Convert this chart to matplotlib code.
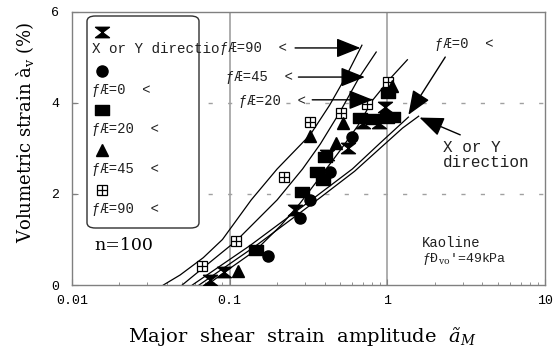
import numpy as np
import matplotlib.pyplot as plt
from matplotlib.path import Path
from matplotlib.patches import FancyBboxPatch
from matplotlib.transforms import Bbox, TransformedBbox

plt.rcParams['mathtext.fontset'] = 'custom'
plt.rcParams['mathtext.rm'] = 'DejaVu Serif'
plt.rcParams['mathtext.it'] = 'DejaVu Serif:italic'

# measured points (major shear strain amplitude, volumetric strain %)
xy_x = [0.075, 0.092, 0.26, 0.415, 0.565, 0.70, 0.88, 0.97]
xy_y = [0.11, 0.29, 1.65, 2.86, 3.01, 3.56, 3.56, 3.91]
t0_x = [0.176, 0.28, 0.324, 0.43, 0.60]
t0_y = [0.64, 1.47, 1.87, 2.48, 3.25]
t20_x = [0.147, 0.288, 0.36, 0.39, 0.405, 0.67, 0.81, 1.0, 1.09, 1.01]
t20_y = [0.77, 2.04, 2.48, 2.31, 2.81, 3.67, 3.65, 3.67, 3.69, 4.22]
t45_x = [0.113, 0.324, 0.475, 0.52, 1.07]
t45_y = [0.31, 3.27, 3.12, 3.56, 4.37]
t90_x = [0.067, 0.11, 0.22, 0.324, 0.51, 0.74, 1.01]
t90_y = [0.42, 0.97, 2.37, 3.58, 3.78, 3.98, 4.46]

# fitted curves
c90_x = [0.038, 0.0485, 0.068, 0.09, 0.137, 0.2, 0.324, 0.43, 0.55, 0.69]
c90_y = [0.0, 0.22, 0.6, 1.0, 1.87, 2.55, 3.3, 3.95, 4.6, 5.27]
c45_x = [0.05, 0.075, 0.11, 0.2, 0.29, 0.376, 0.5, 0.66, 0.85]
c45_y = [0.0, 0.5, 0.97, 1.87, 2.55, 3.1, 3.8, 4.55, 5.12]
c20_x = [0.072, 0.09, 0.147, 0.21, 0.28, 0.38, 0.5, 0.65, 0.81, 1.05, 1.34]
c20_y = [0.0, 0.25, 0.77, 1.3, 1.80, 2.4, 2.95, 3.5, 4.07, 4.55, 4.95]
c0_x = [0.058, 0.135, 0.33, 0.6, 0.9, 1.36]
c0_y = [0.0, 0.87, 1.87, 2.55, 3.12, 3.69]
cxy_x = [0.064, 0.145, 0.35, 0.62, 0.93, 1.25, 1.58]
cxy_y = [0.0, 0.85, 1.84, 2.5, 3.05, 3.45, 3.71]

xticks = [0.01, 0.1, 1, 10]
xtick_labels = ['0.01', '0.1', '1', '10']
yticks = [0, 2, 4, 6]

W, H = 555, 354
fig = plt.figure(figsize=(5.55, 3.54), dpi=100)
ax = fig.add_axes([72 / W, 1 - 285 / H, (545 - 72) / W, (285 - 12) / H])


def fx(x):
    return x / W


def fy(y):
    return 1 - y / H


# custom markers
hourglass = Path([(-1, 0.75), (1, 0.75), (0, 0), (-1, 0.75),
                  (-1, -0.75), (1, -0.75), (0, 0), (-1, -0.75)],
                 [Path.MOVETO, Path.LINETO, Path.LINETO, Path.CLOSEPOLY,
                  Path.MOVETO, Path.LINETO, Path.LINETO, Path.CLOSEPOLY])
rect = Path([(-1, -0.72), (1, -0.72), (1, 0.72), (-1, 0.72), (-1, -0.72)],
            [Path.MOVETO, Path.LINETO, Path.LINETO, Path.LINETO, Path.CLOSEPOLY])

styles = {
    'xy': dict(marker=hourglass, ms=10),
    't0': dict(marker='o', ms=8),
    't20': dict(marker=rect, ms=10),
    't45': dict(marker='^', ms=8),
}

lw = 0.9
for cx, cy in [(c90_x, c90_y), (c45_x, c45_y), (c20_x, c20_y), (c0_x, c0_y), (cxy_x, cxy_y)]:
    ax.plot(cx, cy, color='k', lw=lw, zorder=2)

for m in ['s', '+']:
    ax.plot(t90_x, t90_y, ls='none', marker=m, ms=7, mfc='white', mec='k', mew=0.9, zorder=3)
ax.plot(t45_x, t45_y, ls='none', color='k', zorder=3, **styles['t45'])
ax.plot(t20_x, t20_y, ls='none', color='k', zorder=3, **styles['t20'])
ax.plot(t0_x, t0_y, ls='none', color='k', zorder=3, **styles['t0'])
ax.plot(xy_x, xy_y, ls='none', color='k', zorder=4, **styles['xy'])

ax.set_xscale('log')
ax.set_xlim(0.01, 10)
ax.set_ylim(0, 6)
ax.set_xticks(xticks)
ax.set_xticklabels(xtick_labels)
ax.set_yticks(yticks)
for s in ax.spines.values():
    s.set_color('#808080')
    s.set_linewidth(1.0)
ax.tick_params(which='both', direction='in', color='#808080')
ax.tick_params(which='major', length=4)
ax.tick_params(which='minor', length=2)
ax.tick_params(axis='x', pad=7)
ax.tick_params(axis='y', pad=9)
for lab in ax.get_xticklabels() + ax.get_yticklabels():
    lab.set_fontfamily('Liberation Mono')
    lab.set_fontsize(9.5)

for v in [0.1, 1]:
    ax.axvline(v, color='#a0a0a0', lw=1.2, zorder=1)
for v in [2, 4]:
    ax.axhline(v, color='#a0a0a0', lw=1.0, ls=(0, (3, 11)), zorder=1)

# legend box drawn by hand (marker above label)
box = FancyBboxPatch((fx(87), fy(228)), fx(199) - fx(87), fy(16) - fy(228),
                     boxstyle='round,pad=0,rounding_size=0.015',
                     transform=fig.transFigure, fc='white', ec='#303030', lw=1.0,
                     zorder=5, clip_on=False)
ax.add_patch(box)

mono = dict(family='Liberation Mono', fontsize=10, color='#202020')
legend_rows = [(32, 49, 'xy', 'X or Y direction'),
               (71, 90, 't0', 'ƒÆ=0  <'),
               (110, 129, 't20', 'ƒÆ=20  <'),
               (150, 169, 't45', 'ƒÆ=45  <'),
               (190, 209, 't90', 'ƒÆ=90  <')]
for my, ty, key, label in legend_rows:
    if key == 't90':
        for m in ['s', '+']:
            ax.plot([fx(102)], [fy(my)], transform=fig.transFigure, clip_on=False,
                    ls='none', marker=m, ms=7, mfc='white', mec='k', mew=0.9, zorder=6)
    else:
        ax.plot([fx(102)], [fy(my)], transform=fig.transFigure, clip_on=False,
                ls='none', color='k', zorder=6, **styles[key])
    t = fig.text(fx(92), fy(ty), label, ha='left', va='center', zorder=7, **mono)
    if key == 'xy':
        t.set_fontsize(10.3)
        t.set_clip_box(TransformedBbox(Bbox([[fx(86), 0], [fx(219), 1]]), fig.transFigure))
        t.set_clip_on(True)

fig.text(fx(94), fy(245), 'n=100', ha='left', va='center',
         family='DejaVu Serif', fontsize=12.5)

# curve labels with arrows
arrow = dict(arrowstyle='-|>,head_length=0.75,head_width=0.3', color='k', lw=1,
             shrinkA=0, shrinkB=0, mutation_scale=20)
left_labels = [('ƒÆ=90  <', 287, 48, 0.26, 0.675, 5.21),
               ('ƒÆ=45  <', 293, 77, 0.273, 0.72, 4.57),
               ('ƒÆ=20  <', 306, 101, 0.334, 0.81, 4.07)]
for txt, tx, ty, x0, x1, yv in left_labels:
    fig.text(fx(tx), fy(ty), txt, ha='right', va='center', zorder=7, **mono)
    ax.annotate('', xy=(x1, yv), xytext=(x0, yv), arrowprops=arrow)

fig.text(fx(435), fy(44), 'ƒÆ=0  <', ha='left', va='center', **mono)
ax.annotate('', xy=(1.36, 3.74), xytext=(2.33, 5.01), arrowprops=arrow)
fig.text(fx(443), fy(155), 'X or Y\ndirection', ha='left', va='center',
         linespacing=0.95, family='Liberation Mono', fontsize=11.5, color='#202020')
ax.annotate('', xy=(1.6, 3.68), xytext=(2.9, 3.30), arrowprops=arrow)

fig.text(fx(422), fy(243), 'Kaoline', ha='left', va='center', **mono)
fig.text(fx(422), fy(259), "ƒÐ$_{\\mathrm{vo}}$'=49kPa", ha='left', va='center',
         family='Liberation Mono', fontsize=9.5, color='#202020')

fig.text(fx(25), fy(132), 'Volumetric strain à$_{\\mathrm{v}}$ (%)', rotation=90,
         ha='center', va='center', family='DejaVu Serif', fontsize=13)
fig.text(fx(302), fy(336), 'Major  shear  strain  amplitude  $\\mathit{ã}_{M}$',
         ha='center', va='center', family='DejaVu Serif', fontsize=14)

fig.savefig('out.png', dpi=100)
